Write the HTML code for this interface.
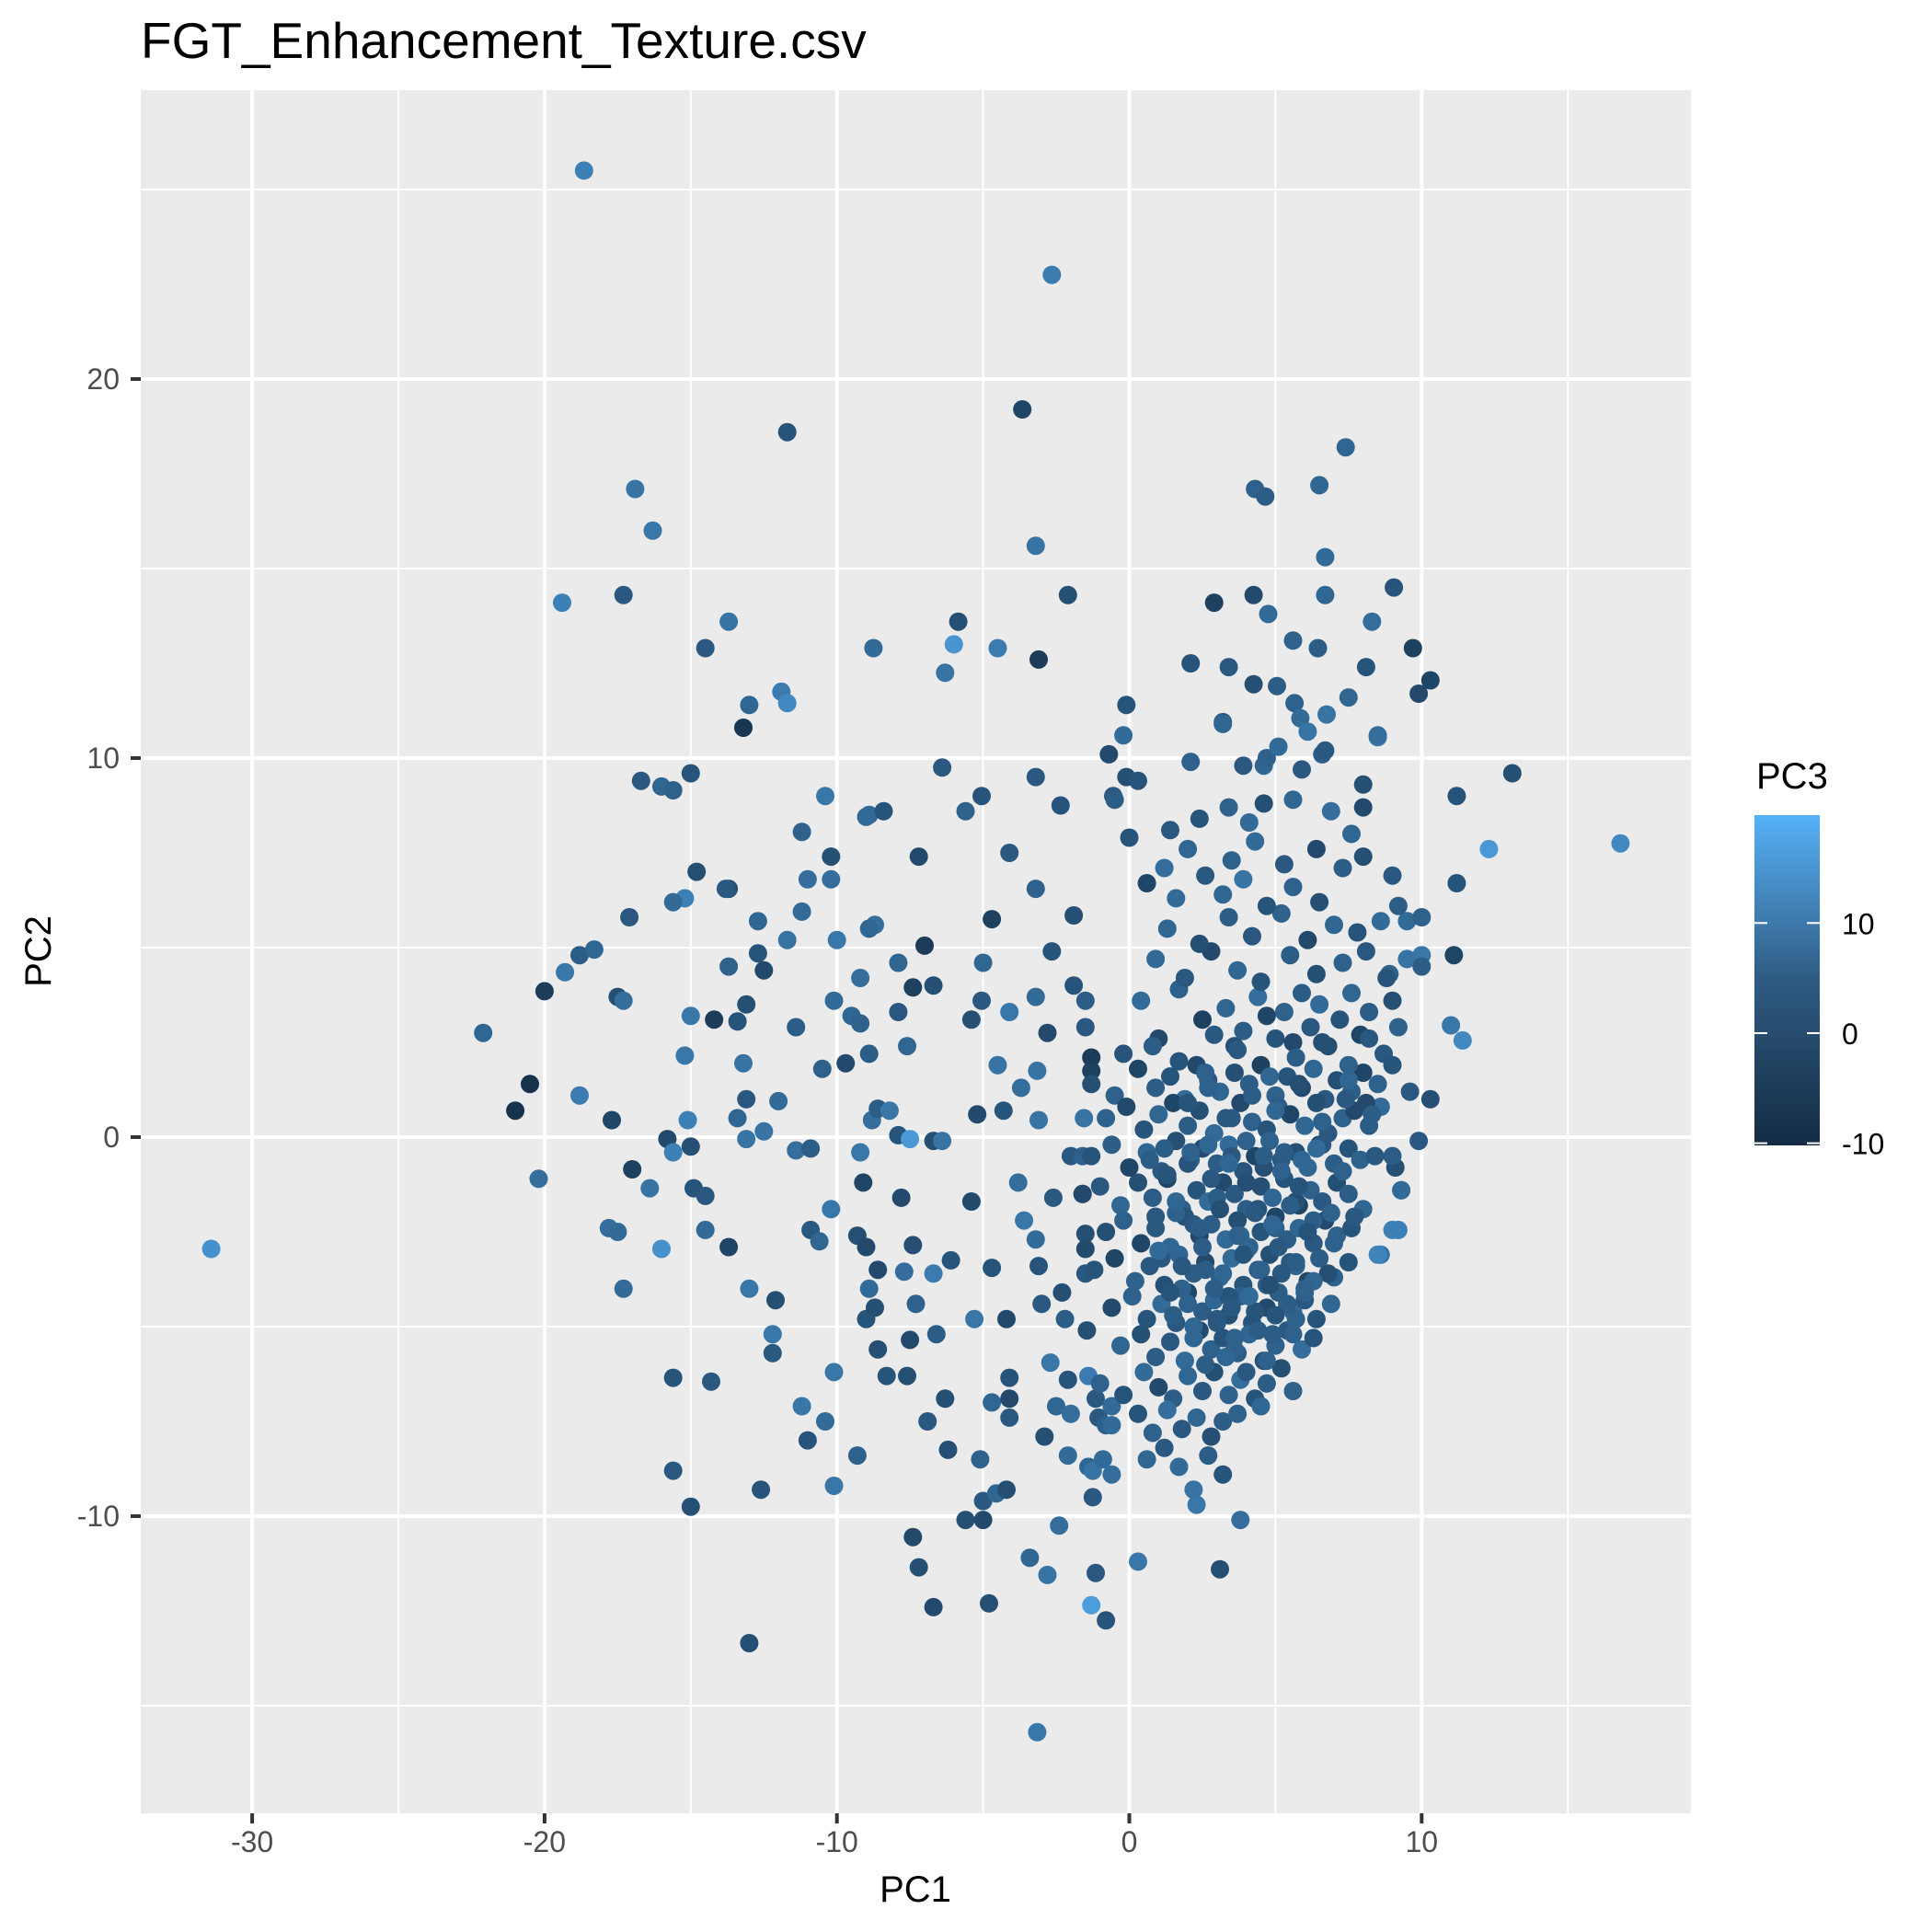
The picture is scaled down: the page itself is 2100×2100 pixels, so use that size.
<!DOCTYPE html>
<html><head><meta charset="utf-8"><style>
html,body{margin:0;padding:0;background:#fff;}
svg{display:block;font-family:"Liberation Sans",Arial,sans-serif;}
</style></head><body>
<svg id="chart" width="2100" height="2100" viewBox="0 0 2100 2100" xmlns="http://www.w3.org/2000/svg">
<defs><linearGradient id="pc3grad" x1="0" y1="1" x2="0" y2="0">
<stop offset="0" stop-color="#132B43"/><stop offset="0.5" stop-color="#2F5B82"/><stop offset="1" stop-color="#56B1F7"/></linearGradient></defs>
<text x="153" y="63" font-size="55" fill="#000">FGT_Enhancement_Texture.csv</text>
<rect x="153" y="98" width="1685" height="1873" fill="#EBEBEB"/>
<g id="grid"></g>
<g id="points"></g>
<g id="axes"></g>
<text x="995" y="2067" font-size="40" text-anchor="middle" fill="#000">PC1</text>
<text x="0" y="0" font-size="40" text-anchor="middle" fill="#000" transform="translate(55,1034) rotate(-90)">PC2</text>
<g id="legend">
<text x="1909" y="857" font-size="40" fill="#000">PC3</text>
<rect x="1907" y="886" width="71" height="359" fill="url(#pc3grad)"/>
</g>
</svg>
<script>
const xTicks = [-30, -20, -10, 0, 10];
const xMinor = [-25, -15, -5, 5, 15];
const yTicks = [-10, 0, 10, 20];
const yMinor = [-15, -5, 5, 15, 25];
const legendTicks = [-10, 0, 10];
const pc1 = [
-18.65,-2.65,-3.66,-11.7,7.4,-16.9,-16.3,4.3,4.65,6.5,-3.2,6.7,-19.4,-17.3,-2.1,2.9,4.25,6.7,9.05,-13.7,-5.85,4.75,8.3,-14.5,-8.75,-6.0,-4.5,-3.1,5.6,6.45,9.7,-6.3,2.1,3.4,4.25,5.05,8.1,10.3,9.9,-11.9,-11.7,-13.0,-13.2,-0.1,5.65,7.5,5.85,6.75,3.2,8.5,13.1,16.8,12.3,11.2,
-22.1,-20.0,-20.5,-21.0,-20.2,-31.4,-19.3,-18.8,-18.3,-17.5,
-17.3,-17.1,-18.8,-17.7,-17.0,-16.4,-17.8,-17.5,-17.3,-16.0,
-15.8,-15.6,-15.1,-15.2,-15.0,-15.0,-14.9,-14.5,-14.5,-15.6,
-15.6,-15.0,-14.3,-13.7,-14.2,-13.7,-13.7,-13.2,-13.4,-13.1,
-13.1,-13.1,-13.4,-12.7,-12.5,-12.7,-12.5,-13.0,-13.0,-12.6,
-12.2,-12.2,-12.1,-11.4,-12.0,-11.4,-11.7,-10.9,-11.2,-11.0,
-10.9,-10.6,-10.2,-10.4,-10.1,-10.1,-10.5,-11.2,-11.0,-11.2,
-10.4,-10.2,-10.2,-10.0,-9.7,-10.1,-9.5,-9.3,-9.2,-9.2,
-9.2,-9.1,-9.0,-9.0,-8.9,-8.9,-8.7,-8.6,-8.6,-8.3,
-8.8,-8.6,-9.3,-8.7,-8.9,-8.4,-8.2,-7.9,-7.9,-7.9,
-7.8,-7.7,-7.6,-7.5,-7.4,-7.5,-7.4,-7.3,-6.9,-7.4,
-7.2,-7.6,-7.2,-7.0,-6.7,-6.7,-6.7,-6.7,-6.6,-6.4,
-6.4,-6.3,-6.2,-6.1,-5.6,-5.6,-5.4,-5.4,-5.3,-5.2,
-5.1,-5.05,-5.0,-5.05,-5.0,-5.0,-4.8,-4.7,-4.7,-4.7,
-4.55,-4.5,-4.3,-4.1,-4.2,-4.2,-4.1,-4.1,-4.1,-4.1,
-3.8,-3.7,-3.6,-3.4,-3.2,-3.1,-3.0,-2.9,-2.8,-3.15,
-3.1,-3.15,-3.2,-3.2,-3.2,-2.8,-2.6,-2.7,-2.65,-2.5,
-2.4,-2.35,-2.3,-2.2,-2.1,-2.0,-2.1,-2.0,-1.9,-1.9,
-1.5,-1.5,-1.55,-1.6,-1.6,-1.5,-1.5,-1.5,-1.45,-1.4,
-1.4,-1.3,-1.25,-1.25,-1.15,-1.15,-1.3,-1.3,-1.05,-0.9,
-0.8,-0.8,-0.6,-0.6,-0.55,-0.7,-0.2,
-16.7,-16.0,-15.6,-15.0,-15.2,-14.8,-15.6,-13.8,-9.0,-8.9,
-0.2,0.4,1.0,1.7,2.5,2.9,3.3,3.6,3.9,4.4,4.7,5.0,5.3,5.6,5.9,6.2,6.5,6.8,7.2,7.6,7.9,8.2,8.7,9.0,9.2,
-1.3,-0.5,0.3,0.9,1.4,1.9,2.3,2.7,3.1,3.6,4.1,4.5,5.0,5.4,5.9,6.3,6.7,7.1,7.6,8.0,8.5,9.0,9.6,
-0.8,-0.1,0.5,1.0,1.5,2.0,2.4,2.9,3.3,3.8,4.2,4.7,5.1,5.5,6.0,6.4,6.8,7.3,7.7,8.2,8.6,
-1.3,-0.6,0.0,0.6,1.1,1.6,2.1,2.5,3.0,3.4,3.9,4.3,4.8,5.2,5.7,6.1,6.5,7.0,7.5,7.9,8.4,9.1,
-1.6,-1.0,-0.3,0.3,0.8,1.3,1.8,2.3,2.7,3.2,3.6,4.0,4.5,4.9,5.3,5.8,6.2,6.6,7.1,7.5,8.0,9.3,
-0.8,-0.2,0.4,0.9,1.4,1.9,2.4,2.8,3.3,3.7,4.1,4.5,5.0,5.4,5.8,6.3,6.7,7.1,7.6,8.6,9.0,
-1.2,-0.5,0.2,0.7,1.2,1.7,2.2,2.6,3.1,3.5,3.9,4.4,4.8,5.2,5.7,6.1,6.5,7.0,7.5,
-0.6,0.1,0.6,1.1,1.6,2.0,2.5,2.9,3.4,3.8,4.2,4.7,5.1,5.6,6.0,6.4,6.9,
-0.3,0.4,0.9,1.4,1.9,2.4,2.8,3.2,3.7,4.1,4.6,5.0,5.4,5.9,6.3,
-1.0,-0.2,0.5,1.0,1.5,2.0,2.5,2.9,3.4,3.8,4.3,4.7,5.2,5.6,
-0.6,0.3,0.8,1.3,1.8,2.3,2.8,3.2,3.7,4.5,
0.6,1.2,1.7,2.2,2.7,3.2,2.3,3.1,3.8,0.3,
9.2,9.3,8.5,10.0,11.4,11.0,10.3,9.9,9.0,8.1,7.5,8.9,9.5,
0.9,1.9,2.8,3.7,4.5,5.5,6.4,7.3,8.1,8.8,9.5,10.0,11.1,
1.3,2.4,3.4,4.2,5.2,6.1,7.0,7.8,8.6,9.2,10.0,
0.6,1.6,2.6,3.2,3.9,4.7,5.6,6.5,7.3,9.0,11.2,
0.0,1.2,2.0,3.5,4.3,5.3,6.4,7.6,8.0,
-0.5,1.4,2.4,3.4,4.1,4.6,5.6,6.9,8.0,
-0.1,0.3,2.1,3.9,4.6,5.9,6.6,8.0,
3.2,4.7,5.1,6.1,8.5,6.7,
1.2,2.0,2.7,3.5,4.0,4.6,5.3,5.9,6.6,7.3,
1.6,2.2,3.0,3.8,4.4,5.0,5.7,6.3,7.0,7.7,
1.1,1.8,2.6,3.4,4.0,4.7,5.5,6.0,6.8,
1.5,2.2,3.0,3.6,4.3,4.9,5.7,
2.0,2.7,3.5,4.2,5.0,5.8,6.6,7.4,8.3,
0.8,1.7,2.6,3.7,4.8,5.7,6.6,7.5,8.2,
0.7,1.3,2.1,2.8,3.4,4.0,4.6,5.2,5.8,6.4,
0.9,1.6,2.4,3.1,3.7,4.3,4.9,5.5,6.1,6.9,
1.0,1.8,2.5,3.2,3.9,4.5,5.1,5.7,6.3,
1.4,2.0,2.9,3.5,4.1,4.8,5.4,6.0,
2.2,3.0,3.6,4.4,5.0,5.6,
2.6,3.3,4.0,4.7
];
const pc2 = [
25.5,22.75,19.2,18.6,18.2,17.1,16.0,17.1,16.9,17.2,15.6,15.3,14.1,14.3,14.3,14.1,14.3,14.3,14.5,13.6,13.6,13.8,13.6,12.9,12.9,13.0,12.9,12.6,13.1,12.9,12.9,12.25,12.5,12.4,11.95,11.9,12.4,12.05,11.7,11.75,11.45,11.4,10.8,11.4,11.45,11.6,11.05,11.15,10.95,10.55,9.6,7.75,7.6,9.0,
2.75,3.85,1.4,0.7,-1.1,-2.95,4.35,4.8,4.95,3.7,
3.6,5.8,1.1,0.45,-0.85,-1.35,-2.4,-2.5,-4.0,-2.95,
-0.05,-0.4,0.45,2.15,3.2,-0.25,-1.35,-1.55,-2.45,-6.35,
-8.8,-9.75,-6.45,-2.9,3.1,4.5,6.55,1.95,3.05,3.5,
1.0,-0.05,0.5,4.85,4.4,5.7,0.15,-4.0,-13.35,-9.3,
-5.7,-5.2,-4.3,-0.35,0.95,2.9,5.2,-0.3,-7.1,-8.0,
-2.45,-2.75,-1.9,-7.5,-9.2,-6.2,1.8,5.95,6.8,8.05,
9.0,6.8,7.4,5.2,1.95,3.6,3.2,-2.6,3.0,4.2,
-0.4,-1.2,-2.9,-4.8,-4.0,2.2,-4.5,-3.5,-5.6,-6.3,
0.45,0.75,-8.4,5.6,8.5,8.6,0.7,4.6,3.3,0.05,
-1.6,-3.55,-6.3,-5.35,3.95,-0.05,-2.85,-4.4,-7.5,-10.55,
-11.35,2.4,7.4,5.05,-0.1,4.0,-12.4,-3.6,-5.2,-0.1,
9.75,-6.9,-8.25,-3.25,8.6,-10.1,-1.7,3.1,-4.8,0.6,
-8.5,9.0,4.6,3.6,-9.6,-10.1,-12.3,5.75,-7.0,-3.45,
-9.4,1.9,0.7,7.5,-4.8,-9.3,-6.35,-6.9,-7.4,3.3,
-1.2,1.3,-2.2,-11.1,-2.7,-3.4,-4.4,-7.9,-11.55,-15.7,
0.45,1.75,3.7,6.55,9.5,2.75,-1.6,-5.95,4.9,-7.1,
-10.25,8.75,-4.1,-4.8,-6.4,-7.3,-8.4,-0.5,5.85,4.0,
2.9,3.6,0.5,-0.5,-1.5,-2.55,-2.95,-3.6,-5.1,-6.3,
-8.7,-12.35,-8.8,-9.5,-11.5,-6.9,2.1,1.75,-7.4,-8.5,
-12.75,-7.6,-7.1,-8.9,9.0,10.1,10.6,
9.4,9.25,9.15,9.6,6.3,7.0,6.2,6.55,8.45,5.5,
2.2,3.6,2.6,3.9,3.1,2.7,3.4,2.4,2.8,3.7,3.2,2.6,3.3,2.5,3.8,2.9,3.5,2.4,3.1,3.8,2.7,3.3,2.2,3.6,2.9,
1.4,1.1,1.8,1.3,1.6,1.0,1.9,1.5,1.2,1.7,1.4,1.9,1.1,1.6,1.3,1.8,1.0,1.5,1.2,1.7,1.4,1.9,1.2,
0.5,0.8,0.2,0.6,0.9,0.3,0.7,0.1,0.5,0.9,0.4,0.2,0.8,0.6,0.3,0.9,0.1,0.5,0.7,0.3,0.8,
-0.5,-0.2,-0.8,-0.4,-0.9,-0.1,-0.6,-0.3,-0.7,-0.2,-0.9,-0.5,-0.1,-0.6,-0.4,-0.8,-0.2,-0.7,-0.3,-0.6,-0.5,-0.8,
-1.5,-1.3,-1.8,-1.2,-1.6,-1.1,-1.9,-1.4,-1.7,-1.2,-1.5,-1.9,-1.3,-1.6,-1.1,-1.8,-1.4,-1.7,-1.2,-1.5,-1.9,-1.4,
-2.5,-2.2,-2.8,-2.4,-2.9,-2.1,-2.6,-2.3,-2.7,-2.2,-2.9,-2.5,-2.1,-2.7,-2.4,-2.8,-2.2,-2.6,-2.4,-3.1,-2.45,
-3.5,-3.2,-3.8,-3.4,-3.9,-3.1,-3.6,-3.3,-3.7,-3.2,-3.9,-3.5,-3.1,-3.6,-3.4,-3.8,-3.2,-3.7,-3.3,
-4.5,-4.2,-4.8,-4.4,-4.9,-4.1,-4.6,-4.3,-4.7,-4.2,-4.9,-4.5,-4.1,-4.6,-4.3,-4.8,-4.4,
-5.5,-5.2,-5.8,-5.4,-5.9,-5.1,-5.6,-5.3,-5.7,-5.2,-5.9,-5.5,-5.1,-5.6,-5.3,
-6.5,-6.8,-6.2,-6.6,-6.9,-6.3,-6.7,-6.2,-6.8,-6.4,-6.9,-6.5,-6.1,-6.7,
-7.6,-7.3,-7.8,-7.2,-7.7,-7.4,-7.9,-7.5,-7.3,-7.1,
-8.5,-8.2,-8.7,-9.3,-8.4,-8.9,-9.7,-11.4,-10.1,-11.2,
-2.45,-1.4,-3.1,4.8,2.55,2.95,1.0,-0.1,-0.5,0.9,1.5,4.3,5.7,
4.7,4.2,4.9,4.4,4.1,4.8,4.3,4.6,4.9,4.2,4.7,4.5,4.8,
5.5,5.1,5.8,5.3,5.9,5.2,5.6,5.4,5.7,6.1,5.8,
6.7,6.3,6.9,6.4,6.8,6.1,6.6,6.2,7.1,6.9,6.7,
7.9,7.1,7.6,7.3,7.8,7.2,7.6,8.0,7.4,
8.9,8.1,8.4,8.7,8.3,8.8,8.9,8.6,8.7,
9.5,9.4,9.9,9.8,9.8,9.7,10.1,9.3,
10.9,10.0,10.3,10.7,10.6,10.2,
-0.3,-0.7,-0.2,-0.5,-0.1,-0.8,-0.4,-0.6,-0.2,-0.9,
-2.0,-2.3,-1.6,-2.6,-1.9,-2.4,-1.7,-2.2,-2.8,-2.1,
-3.2,-4.0,-3.5,-4.2,-3.0,-3.9,-3.3,-4.1,-3.6,
-4.7,-5.3,-4.9,-5.6,-4.6,-5.2,-4.8,
0.9,1.3,0.5,1.1,0.7,1.4,0.4,1.0,0.6,
2.4,2.0,1.7,2.3,1.6,2.1,2.5,1.9,2.6,
-0.6,-1.0,-0.4,-1.1,-0.7,-1.2,-0.5,-0.9,-1.3,-0.3,
-2.1,-1.7,-2.4,-1.9,-2.6,-2.0,-2.3,-1.8,-2.5,-2.0,
-3.0,-3.4,-2.9,-3.6,-3.1,-3.5,-2.9,-3.3,-3.8,
-4.1,-4.4,-4.0,-4.5,-4.2,-3.9,-4.4,-4.0,
-5.0,-4.8,-5.3,-5.1,-4.7,-5.2,
-6.0,-5.8,-6.2,-5.9
];
const pc3 = [
8,7,-5,-2,2,5,6,1,0,2,5,3,8,-1,-3,-6,-4,2,-2,5,-3,3,4,-1,3,13,7,-7,1,0,-6,5,-2,-1,-3,0,-2,-5,-4,7,10,2,-8,-2,1,2,3,5,-1,6,-3,10,14,-2,
2,-7,-9,-9,4,12,6,0,2,-3,
4,-1,7,-5,-6,5,4,3,3,12,
-4,8,8,6,6,-3,-2,-1,3,-2,
-1,-3,-1,-5,-7,1,-3,5,-2,-3,
-1,5,2,-2,-4,2,5,6,-3,-2,
-1,6,-3,4,3,0,5,0,6,-2,
-1,2,6,3,6,6,1,3,4,1,
6,4,-3,6,-4,3,2,-3,1,4,
6,-5,-4,-2,3,0,-3,-4,-3,-2,
4,0,1,4,3,-2,6,2,-1,-2,
-4,4,-3,-4,-6,14,-3,1,-1,-4,
-3,2,-4,-7,-3,-3,-4,7,0,5,
-1,-3,-3,-2,1,-3,-4,-3,6,-4,
1,-2,2,-1,-1,-4,-3,-6,2,-2,
2,5,-2,-1,-4,-3,-2,-4,-1,6,
4,4,6,2,3,-2,-1,-3,5,6,
5,5,3,1,-1,-4,-1,6,-2,2,
4,-2,-3,0,-2,4,3,-1,-3,-2,
-1,0,5,1,-5,-3,-4,-1,-3,7,
2,15,5,-1,-1,-1,-7,-6,-1,3,
-2,1,3,4,-1,-4,3,
-1,2,1,-2,8,-3,3,-1,3,2,
-2,3,-4,1,-6,-1,2,-3,0,4,-5,-2,1,-4,0,-1,3,-3,-2,2,-5,0,-1,-3,1,
-3,1,-5,0,-2,3,-4,-1,2,-3,0,-6,1,-2,-4,2,-1,-3,0,-5,1,-2,-1,
1,-4,-2,2,-5,0,-3,3,-1,-4,1,-2,0,-5,2,-3,-1,1,-4,0,3,
-2,0,-5,2,-1,-3,1,-4,0,3,-2,-5,1,-1,-3,2,-4,0,-2,1,-1,-3,
-4,-1,2,-3,0,-5,1,-2,3,-4,-1,0,-3,2,-2,-5,1,-1,-3,0,2,3,
-3,1,-5,-1,2,-2,-4,0,3,-3,1,-2,-5,0,2,-1,-4,1,-2,5,8,
-2,-5,1,-1,-3,2,0,-4,1,3,-2,0,-3,-1,2,-5,0,1,-2,
-4,1,-2,3,-1,-5,0,2,-3,1,-2,-4,0,3,-1,-2,2,
2,-3,0,-1,3,-4,1,-2,0,2,-3,1,-1,4,-2,
1,-2,3,-4,0,2,-1,-3,1,4,-2,0,-3,1,
3,-2,1,4,-1,2,-3,0,1,2,
2,-1,3,5,0,-2,6,-3,4,6,
8,3,9,6,10,6,-3,-1,0,-4,2,1,3,
3,-1,-4,2,-2,0,-3,1,-1,-2,5,0,-5,
2,-3,0,-1,1,-4,2,-2,3,0,1,
-5,3,-1,2,5,-2,1,-3,0,-1,-2,
-2,4,2,1,3,-1,-4,2,-3,
0,-1,-2,1,3,-3,2,4,-4,
-3,-2,1,-1,2,-1,0,-3,
2,1,3,5,4,-1,
0,-2,2,-1,1,-3,0,2,-1,1,
1,-1,0,2,-2,1,-3,0,1,-1,
-1,1,0,-2,2,0,-1,1,-3,
0,2,-1,1,-2,0,1,
-2,1,-1,0,2,-3,1,-1,0,
0,-2,1,-1,2,0,-3,1,-1,
0,-2,1,-1,2,-3,0,1,-2,3,
-1,2,0,-3,1,-1,2,0,-2,1,
3,-1,0,2,-2,1,-1,0,2,
-2,1,0,-1,3,-3,0,1,
2,-1,1,0,-2,1,
0,2,-1,1
];

const NS = 'http://www.w3.org/2000/svg';
const PX0 = 1227.5, PXU = 31.78;
const PY0 = 1236, PYU = 41.2;
const LEFT = 153, RIGHT = 1838, TOP = 98, BOTTOM = 1971;
function xScale(v){ return PX0 + v * PXU; }
function yScale(v){ return PY0 - v * PYU; }
const C_LO = -10.2, C_HI = 19.8;
function legendY(v){ return 1245 - (v - C_LO) / (C_HI - C_LO) * 359; }
function colorScale(v){
  let t = (v - C_LO) / (C_HI - C_LO); t = Math.max(0, Math.min(1, t));
  const lo = [19,43,67], hi = [86,177,247];
  const tt = Math.pow(t, 0.92);
  const c = lo.map((l,i) => Math.round(l + (hi[i]-l) * tt));
  return 'rgb(' + c.join(',') + ')';
}
function mk(tag, attrs){ const e = document.createElementNS(NS, tag); for (const k in attrs) e.setAttribute(k, attrs[k]); return e; }

const grid = document.getElementById('grid');
xMinor.forEach(v => {
  const l = mk('line', {x1: xScale(v), x2: xScale(v), y1: TOP, y2: BOTTOM, stroke: '#fff', 'stroke-width': 2});
  
  
  grid.appendChild(l);
});
yMinor.forEach(v => {
  const l = mk('line', {x1: LEFT, x2: RIGHT, y1: yScale(v), y2: yScale(v), stroke: '#fff', 'stroke-width': 2});
  
  
  grid.appendChild(l);
});
xTicks.forEach(v => {
  const l = mk('line', {x1: xScale(v), x2: xScale(v), y1: TOP, y2: BOTTOM, stroke: '#fff', 'stroke-width': 4});
  
  
  grid.appendChild(l);
});
yTicks.forEach(v => {
  const l = mk('line', {x1: LEFT, x2: RIGHT, y1: yScale(v), y2: yScale(v), stroke: '#fff', 'stroke-width': 4});
  
  
  grid.appendChild(l);
});

const pts = document.getElementById('points');
const n = Math.min(pc1.length, pc2.length, pc3.length);
for (let i = 0; i < n; i++) {
  const c = mk('circle', {cx: xScale(pc1[i]).toFixed(1), cy: yScale(pc2[i]).toFixed(1), r: 10, fill: colorScale(pc3[i])});
  
  
  pts.appendChild(c);
}

const axes = document.getElementById('axes');
xTicks.forEach(v => {
  const t = mk('line', {x1: xScale(v), x2: xScale(v), y1: BOTTOM, y2: BOTTOM + 11, stroke: '#333', 'stroke-width': 4});
  
  
  axes.appendChild(t);
  const lb = mk('text', {x: xScale(v), y: 2013, 'font-size': 32, 'text-anchor': 'middle', fill: '#4D4D4D'});
  lb.textContent = String(v);
  
  
  axes.appendChild(lb);
});
yTicks.forEach(v => {
  const t = mk('line', {x1: LEFT - 11, x2: LEFT, y1: yScale(v), y2: yScale(v), stroke: '#333', 'stroke-width': 4});
  
  
  axes.appendChild(t);
  const lb = mk('text', {x: 130, y: yScale(v) + 11, 'font-size': 32, 'text-anchor': 'end', fill: '#4D4D4D'});
  lb.textContent = String(v);
  
  
  axes.appendChild(lb);
});

const legend = document.getElementById('legend');
legendTicks.forEach(v => {
  const y = legendY(v);
  const a = mk('line', {x1: 1907, x2: 1921, y1: y, y2: y, stroke: '#fff', 'stroke-width': 2});
  
  
  legend.appendChild(a);
  const b = mk('line', {x1: 1964, x2: 1978, y1: y, y2: y, stroke: '#fff', 'stroke-width': 2});
  
  
  legend.appendChild(b);
  const lb = mk('text', {x: 2002, y: y + 12, 'font-size': 32, fill: '#000'});
  lb.textContent = String(v);
  
  
  legend.appendChild(lb);
});
</script>
</body></html>
